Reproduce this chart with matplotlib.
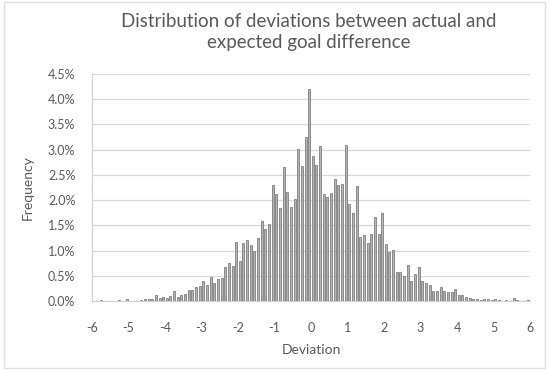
import numpy as np
import matplotlib.pyplot as plt
from matplotlib.patches import Rectangle

# bin centres: 0.1 wide bins from -6 to 6
bin_centers = np.round(np.arange(-5.95, 6.0, 0.1), 2)

# frequency per bin, in percent
freq_pct = [
    0, 0, 0.02, 0, 0, 0, 0, 0.02, 0, 0.04,
    0, 0, 0, 0.02, 0.03, 0.03, 0.04, 0.11, 0.05, 0.07,
    0.05, 0.09, 0.19, 0.07, 0.11, 0.13, 0.22, 0.21, 0.27, 0.30,
    0.40, 0.32, 0.48, 0.35, 0.43, 0.45, 0.68, 0.75, 0.70, 1.17,
    0.79, 1.15, 1.21, 1.11, 1.00, 1.25, 1.59, 1.43, 1.52, 2.30,
    2.13, 1.85, 2.65, 2.17, 1.87, 2.02, 3.01, 2.67, 3.25, 4.20,
    2.88, 2.69, 3.08, 2.13, 2.07, 2.15, 2.41, 2.30, 2.31, 3.10,
    1.92, 1.75, 2.27, 1.27, 1.31, 1.15, 1.32, 1.67, 1.32, 1.75,
    1.13, 0.97, 1.01, 0.57, 0.57, 0.49, 0.71, 0.40, 0.53, 0.67,
    0.40, 0.35, 0.31, 0.19, 0.20, 0.27, 0.20, 0.18, 0.17, 0.23,
    0.11, 0.11, 0.07, 0.06, 0.03, 0.03, 0.01, 0.03, 0.03, 0.02,
    0.03, 0.02, 0, 0.01, 0, 0.06, 0.02, 0, 0, 0.02,
]

x_ticks = list(range(-6, 7))
y_ticks = [0.0, 0.5, 1.0, 1.5, 2.0, 2.5, 3.0, 3.5, 4.0, 4.5]

grey = '#595959'
plt.rcParams['font.family'] = ['Lato', 'DejaVu Sans']

fig = plt.figure(figsize=(5.49, 3.74), dpi=100)
ax = fig.add_axes([92/549, 1 - 301/374, (530 - 92)/549, (301 - 74)/374])

ax.bar(bin_centers, freq_pct, width=0.055, color='#b4b4b4',
       edgecolor='#7f7f7f', linewidth=0.6, zorder=3)

ax.set_xlim(-6, 6)
ax.set_ylim(0, 4.5)
ax.set_xticks(x_ticks)
ax.set_xticklabels([str(v) for v in x_ticks])
ax.set_yticks(y_ticks)
ax.set_yticklabels(['{:.1f}%'.format(v) for v in y_ticks])
ax.tick_params(axis='x', length=0, colors=grey, labelsize=9, pad=15)
ax.tick_params(axis='y', length=0, colors=grey, labelsize=9, pad=12)
ax.grid(axis='y', color='#d9d9d9', linewidth=0.9, zorder=0)

for side in ['top', 'right']:
    ax.spines[side].set_visible(False)
for side in ['left', 'bottom']:
    ax.spines[side].set_color('#d0d0d0')

ax.set_xlabel('Deviation', color=grey, fontsize=10, labelpad=7)
ax.set_ylabel('Frequency', color=grey, fontsize=10, labelpad=10)

fig.text(0.563, 0.915, 'Distribution of deviations between actual and\nexpected goal difference',
         ha='center', va='center', color=grey, fontsize=13.5, linespacing=1.3)

# light chart border
fig.patches.append(Rectangle((4/549, 6/374), 541/549, 366/374, transform=fig.transFigure,
                             fill=False, edgecolor='#e0e0e0', linewidth=1))

fig.savefig('out.png', dpi=100)
